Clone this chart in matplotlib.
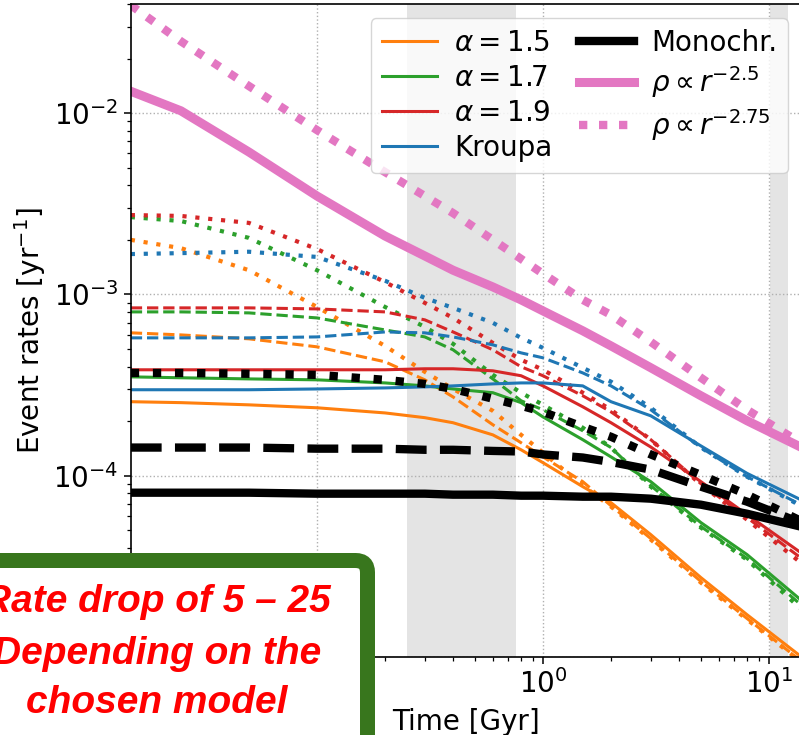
import matplotlib

matplotlib.use("Agg")

import matplotlib.pyplot as plt
from matplotlib.lines import Line2D
from matplotlib.patches import FancyBboxPatch
from matplotlib.transforms import IdentityTransform

W, H, DPI = 799, 735, 100

# time grid [Gyr] and event rates [1/yr]
time_gyr = [0.015, 0.025, 0.05, 0.1, 0.2, 0.3, 0.4, 0.6, 0.8, 1.0, 1.5, 2.0, 3.0, 5.0, 8.0, 13.8]

a15_solid = [2.56e-4, 2.53e-4, 2.46e-4, 2.37e-4, 2.22e-4, 2.09e-4, 1.96e-4, 1.68e-4,
             1.39e-4, 1.18e-4, 8.70e-5, 7.10e-5, 4.73e-5, 2.74e-5, 1.71e-5, 1.01e-5]
a15_dashed = [6.14e-4, 5.98e-4, 5.69e-4, 5.14e-4, 4.25e-4, 3.38e-4, 2.72e-4, 1.91e-4,
              1.52e-4, 1.27e-4, 9.27e-5, 6.83e-5, 4.50e-5, 2.61e-5, 1.63e-5, 9.56e-6]
a15_dotted = [2.00e-3, 1.80e-3, 1.36e-3, 8.53e-4, 5.20e-4, 3.74e-4, 3.01e-4, 2.28e-4,
              1.68e-4, 1.34e-4, 8.81e-5, 6.75e-5, 4.44e-5, 2.57e-5, 1.61e-5, 9.45e-6]

a17_solid = [3.51e-4, 3.47e-4, 3.42e-4, 3.38e-4, 3.25e-4, 3.13e-4, 3.01e-4, 2.87e-4,
             2.53e-4, 2.11e-4, 1.58e-4, 1.27e-4, 9.27e-5, 5.51e-5, 3.67e-5, 2.07e-5]
a17_dashed = [8.01e-4, 8.01e-4, 7.91e-4, 7.42e-4, 6.37e-4, 5.83e-4, 4.95e-4, 3.42e-4,
              2.59e-4, 2.31e-4, 1.77e-4, 1.43e-4, 8.81e-5, 5.24e-5, 3.49e-5, 1.95e-5]
a17_dotted = [2.67e-3, 2.54e-3, 2.05e-3, 1.36e-3, 8.53e-4, 6.62e-4, 5.34e-4, 3.60e-4,
              2.87e-4, 2.46e-4, 1.84e-4, 1.43e-4, 8.70e-5, 5.17e-5, 3.44e-5, 1.85e-5]

a19_solid = [3.84e-4, 3.84e-4, 3.84e-4, 3.84e-4, 3.84e-4, 3.89e-4, 3.89e-4, 3.79e-4,
             3.56e-4, 3.13e-4, 2.40e-4, 1.96e-4, 1.44e-4, 9.27e-5, 6.10e-5, 3.77e-5]
a19_dashed = [8.43e-4, 8.43e-4, 8.43e-4, 8.32e-4, 8.01e-4, 7.24e-4, 6.21e-4, 4.95e-4,
              3.99e-4, 3.56e-4, 2.76e-4, 2.25e-4, 1.58e-4, 9.03e-5, 5.87e-5, 3.53e-5]
a19_dotted = [2.74e-3, 2.71e-3, 2.48e-3, 1.78e-3, 1.17e-3, 8.98e-4, 7.42e-4, 5.40e-4,
              4.36e-4, 3.84e-4, 2.87e-4, 2.31e-4, 1.58e-4, 8.92e-5, 5.72e-5, 3.32e-5]

kroupa_solid = [2.98e-4, 2.98e-4, 2.98e-4, 3.01e-4, 3.05e-4, 3.09e-4, 3.13e-4, 3.21e-4,
                3.25e-4, 3.25e-4, 3.13e-4, 2.56e-4, 2.14e-4, 1.46e-4, 1.03e-4, 7.38e-5]
kroupa_dashed = [5.76e-4, 5.76e-4, 5.76e-4, 5.83e-4, 6.21e-4, 6.14e-4, 5.83e-4, 5.27e-4,
                 4.76e-4, 4.47e-4, 3.69e-4, 3.13e-4, 2.31e-4, 1.43e-4, 9.87e-5, 6.92e-5]
kroupa_dotted = [1.67e-3, 1.69e-3, 1.72e-3, 1.61e-3, 1.19e-3, 9.57e-4, 8.43e-4, 6.97e-4,
                 5.76e-4, 5.07e-4, 3.94e-4, 3.30e-4, 2.37e-4, 1.43e-4, 9.87e-5, 6.83e-5]

mono_solid = [8.06e-5, 8.06e-5, 8.06e-5, 7.96e-5, 7.96e-5, 7.96e-5, 7.86e-5, 7.86e-5,
              7.76e-5, 7.76e-5, 7.66e-5, 7.66e-5, 7.47e-5, 6.92e-5, 6.17e-5, 5.24e-5]
mono_dashed = [1.43e-4, 1.43e-4, 1.43e-4, 1.41e-4, 1.41e-4, 1.39e-4, 1.39e-4, 1.37e-4,
               1.36e-4, 1.31e-4, 1.26e-4, 1.19e-4, 1.08e-4, 8.70e-5, 7.19e-5, 5.51e-5]
mono_dotted = [3.69e-4, 3.69e-4, 3.65e-4, 3.60e-4, 3.38e-4, 3.21e-4, 3.01e-4, 2.66e-4,
               2.43e-4, 2.25e-4, 1.86e-4, 1.64e-4, 1.31e-4, 1.01e-4, 7.86e-5, 5.65e-5]

rho25 = [1.32e-2, 1.03e-2, 6.10e-3, 3.49e-3, 2.10e-3, 1.63e-3, 1.36e-3, 1.10e-3,
         9.33e-4, 8.11e-4, 6.30e-4, 5.20e-4, 3.94e-4, 2.76e-4, 2.01e-4, 1.44e-4]
rho275 = [3.94e-2, 2.49e-2, 1.41e-2, 8.06e-3, 4.73e-3, 3.49e-3, 2.81e-3, 2.00e-3,
          1.57e-3, 1.30e-3, 9.33e-4, 7.71e-4, 5.47e-4, 3.47e-4, 2.31e-4, 1.52e-4]

imf_labels = [r"$\alpha = 1.5$", r"$\alpha = 1.7$", r"$\alpha = 1.9$", "Kroupa"]
imf_colors = ["#ff7f0e", "#2ca02c", "#d62728", "#1f77b4"]
imf_series = [
    (a15_solid, a15_dashed, a15_dotted),
    (a17_solid, a17_dashed, a17_dotted),
    (a19_solid, a19_dashed, a19_dotted),
    (kroupa_solid, kroupa_dashed, kroupa_dotted),
]

shaded_bands = [(0.25, 0.76), (10.1, 12.1)]

PINK = "#e377c2"
BOX_GREEN = "#38761d"

plt.rcParams["font.family"] = ["DejaVu Sans"]

fig = plt.figure(figsize=(W / DPI, H / DPI), dpi=DPI)
ax = fig.add_axes([130.8 / W, 1 - 657 / H, (800.6 - 130.8) / W, (657 - 4) / H])
ax.set_xscale("log")
ax.set_yscale("log")

for lo, hi in shaded_bands:
    ax.axvspan(lo, hi, color="#e4e4e4", lw=0, zorder=0)

colored_dots = (0, (1, 2.1))
for color, (solid, dashed, dotted) in zip(imf_colors, imf_series):
    ax.plot(time_gyr, solid, color=color, lw=2.2, ls="-")
    ax.plot(time_gyr, dashed, color=color, lw=2.2, ls="--")
    ax.plot(time_gyr, dotted, color=color, lw=3.0, ls=colored_dots)

ax.plot(time_gyr, mono_solid, color="black", lw=6, ls="-")
ax.plot(time_gyr, mono_dashed, color="black", lw=6, ls="--")
ax.plot(time_gyr, mono_dotted, color="black", lw=6, ls=":")

pink_dots = (0, (1, 1.4))
ax.plot(time_gyr, rho25, color=PINK, lw=6.5, ls="-")
ax.plot(time_gyr, rho275, color=PINK, lw=6, ls=pink_dots)

ax.set_xlim(0.015, 13.8)
ax.set_ylim(1e-5, 0.04)
ax.grid(True, which="major", ls=":", color="#b0b0b0", lw=1.0)

ax.tick_params(which="major", length=5, width=1.1, labelsize=20, pad=4)
ax.tick_params(which="minor", length=3, width=0.9)
for spine in ax.spines.values():
    spine.set_linewidth(1.2)

ax.set_xlabel("Time [Gyr]", fontsize=20, labelpad=6)
ax.set_ylabel(r"Event rates [yr$^{-1}$]", fontsize=20, labelpad=4)

handles = [Line2D([], [], color=c, lw=2.2) for c in imf_colors]
handles += [
    Line2D([], [], color="black", lw=6),
    Line2D([], [], color=PINK, lw=6.5),
    Line2D([], [], color=PINK, lw=6, ls=pink_dots),
]
labels = imf_labels + ["Monochr.", r"$\rho \propto r^{-2.5}$", r"$\rho \propto r^{-2.75}$"]
fig.legend(handles, labels, ncol=2, fontsize=20, loc="upper right",
           bbox_to_anchor=(788 / W, 1 - 18 / H), bbox_transform=fig.transFigure,
           borderaxespad=0, columnspacing=0.95, handletextpad=0.6,
           labelspacing=0.25, borderpad=0.4)

# green call-out box pasted over the lower left corner (pixel coordinates)
box = FancyBboxPatch((-100, -100), 467.5, 274.5,
                     boxstyle="round,pad=0,rounding_size=12",
                     transform=IdentityTransform(), facecolor="white",
                     edgecolor=BOX_GREEN, lw=10.8, zorder=5)
fig.add_artist(box)

callout = ["Rate drop of 5 \u2013 25", "Depending on the", "chosen model"]
baselines = [612, 664, 713]
for line, base in zip(callout, baselines):
    fig.text(157 / W, 1 - base / H, line, ha="center", va="baseline",
             fontsize=28, color="#ff0000", fontweight="bold", style="italic",
             family=["Liberation Sans", "DejaVu Sans"], zorder=6)

fig.savefig("out.png", dpi=DPI)
